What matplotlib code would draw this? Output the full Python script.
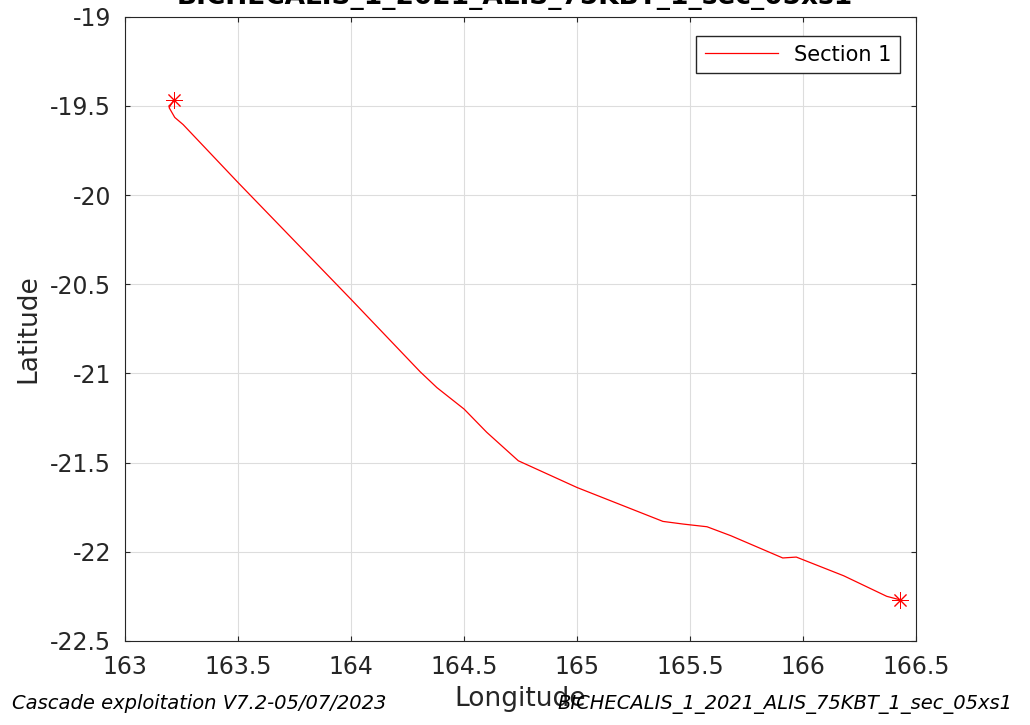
import matplotlib.pyplot as plt

# track
lon = [163.217, 163.195, 163.22, 163.257, 163.5, 164.0, 164.305, 164.38, 164.50, 164.60,
       164.74, 165.0, 165.18, 165.38, 165.47, 165.575, 165.68, 165.91, 165.97, 166.18,
       166.37, 166.43]
lat = [-19.465, -19.51, -19.565, -19.605, -19.93, -20.585, -20.99, -21.08, -21.20, -21.33,
       -21.49, -21.64, -21.73, -21.83, -21.845, -21.86, -21.91, -22.035, -22.03, -22.135,
       -22.25, -22.27]

title = "BICHECALIS_1_2021_ALIS_75KBT_1_sec_05xs1"
footer_left = "Cascade exploitation V7.2-05/07/2023"
footer_right = "BICHECALIS_1_2021_ALIS_75KBT_1_sec_05xs1"

fig = plt.figure(figsize=(10.3, 7.25), dpi=100)
ax = fig.add_axes([0.1214, 0.116, 0.768, 0.861])

ax.plot(lon, lat, color='red', linewidth=0.9, label='Section 1')
star = (8, 2, 0)
ax.plot(lon[0], lat[0], marker=star, color='red', markersize=12, markeredgewidth=0.7, linestyle='none')
ax.plot(lon[-1], lat[-1], marker=star, color='red', markersize=12, markeredgewidth=0.7, linestyle='none')

ax.set_xlim(163, 166.5)
ax.set_ylim(-22.5, -19)
ax.set_xticks([163, 163.5, 164, 164.5, 165, 165.5, 166, 166.5])
ax.set_xticklabels(['163', '163.5', '164', '164.5', '165', '165.5', '166', '166.5'])
ax.set_yticks([-22.5, -22, -21.5, -21, -20.5, -20, -19.5, -19])
ax.set_yticklabels(['-22.5', '-22', '-21.5', '-21', '-20.5', '-20', '-19.5', '-19'])
ax.grid(True, color='#dddddd', linewidth=0.8)
ax.tick_params(axis='both', direction='in', labelsize=17, colors='#262626', top=True, right=True)
ax.tick_params(axis='y', pad=10)
ax.tick_params(axis='x', pad=10)
for s in ax.spines.values():
    s.set_color('#262626')
    s.set_linewidth(0.8)

ax.set_xlabel('Longitude', fontsize=19, color='#262626', labelpad=5)
ax.set_ylabel('Latitude', fontsize=19, color='#262626', labelpad=6)
fig.text(0.5, 0.9945, title, fontsize=19, fontweight='bold', ha='center', va='baseline')

leg = ax.legend(loc='upper right', fontsize=15, fancybox=False, handlelength=3.5,
                bbox_to_anchor=(0.985, 0.975), borderaxespad=0.2)
leg.get_frame().set_edgecolor('#262626')
leg.get_frame().set_alpha(1)

fig.text(0.012, 0.022, footer_left, fontsize=14, style='italic')
fig.text(0.983, 0.022, footer_right, fontsize=14, style='italic', ha='right')

fig.savefig('out.png', dpi=100)
